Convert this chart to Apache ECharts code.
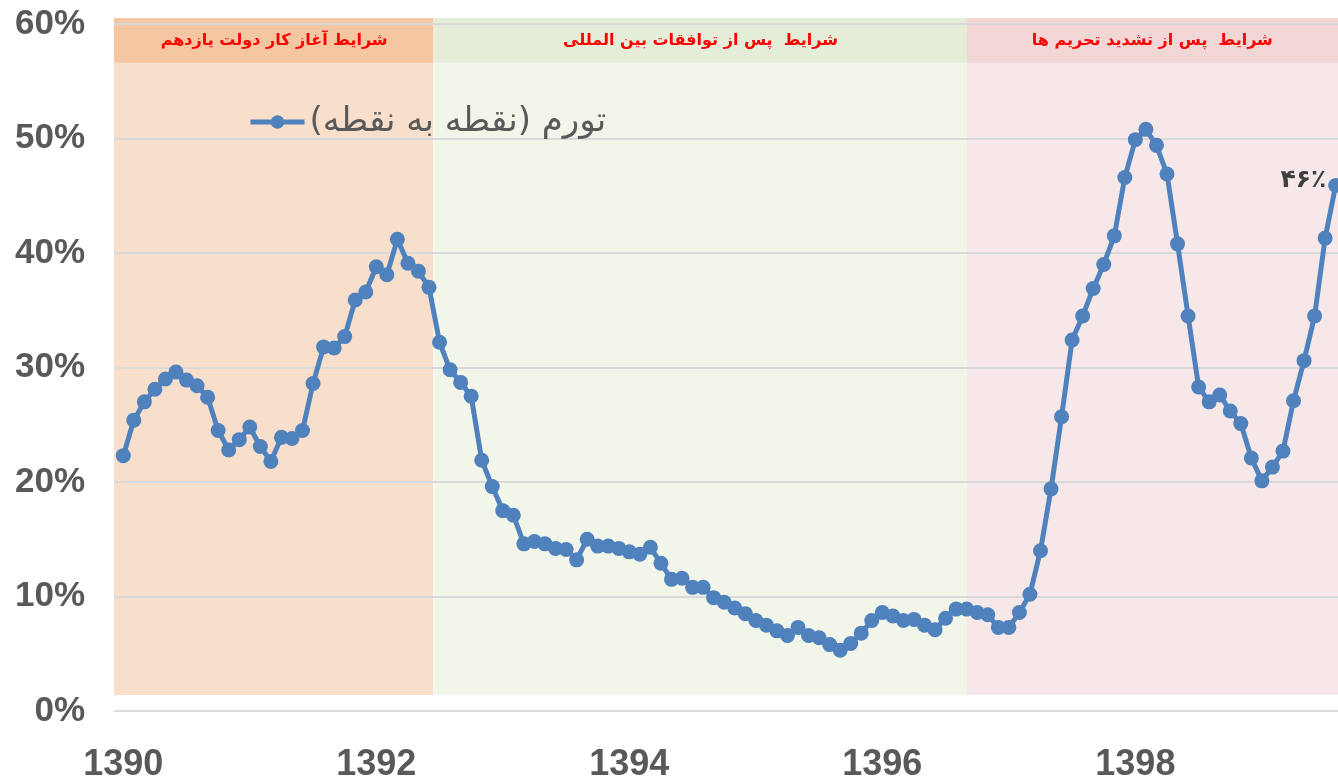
<!DOCTYPE html>
<html><head><meta charset="utf-8">
<script src="https://cdn.jsdelivr.net/npm/echarts@6/dist/echarts.min.js"></script>
<style>html,body{margin:0;padding:0;background:#fff}#c{width:1338px;height:783px}</style>
</head><body><div id="c"></div>
<script>
// ---- data ----
const startYear = 1390;
const seriesName = 'تورم (نقطه به نقطه)';
const inflation = [
  22.3, 25.4, 27.0, 28.1, 29.0, 29.6, 28.9, 28.4, 27.4, 24.5, 22.8, 23.7,
  24.8, 23.1, 21.8, 23.9, 23.8, 24.5, 28.6, 31.8, 31.7, 32.7, 35.9, 36.6,
  38.8, 38.1, 41.2, 39.1, 38.4, 37.0, 32.2, 29.8, 28.7, 27.5, 21.9, 19.6,
  17.5, 17.1, 14.6, 14.8, 14.6, 14.2, 14.1, 13.2, 15.0, 14.4, 14.4, 14.2,
  13.9, 13.7, 14.3, 12.9, 11.5, 11.6, 10.8, 10.8, 9.9, 9.5, 9.0, 8.5,
  7.9, 7.5, 7.0, 6.6, 7.3, 6.6, 6.4, 5.8, 5.3, 5.9, 6.8, 7.9,
  8.6, 8.3, 7.9, 8.0, 7.5, 7.1, 8.1, 8.9, 8.9, 8.6, 8.4, 7.3,
  7.3, 8.6, 10.2, 14.0, 19.4, 25.7, 32.4, 34.5, 36.9, 39.0, 41.5, 46.6,
  49.9, 50.8, 49.4, 46.9, 40.8, 34.5, 28.3, 27.0, 27.6, 26.2, 25.1, 22.1,
  20.1, 21.3, 22.7, 27.1, 30.6, 34.5, 41.3, 45.9
];
const yearTickMonths = [0, 24, 48, 72, 96];
const lastLabel = '۴۶٪';
const periodNames = [
  'شرایط آغاز کار دولت یازدهم',
  'شرایط  پس از توافقات بین المللی',
  'شرایط  پس از تشدید تحریم ها'
];
const periodStart = [-0.88, 29.5, 80];
const periodEnd = [29.5, 80, 115.22];

// ---- styles ----
const bodyColors = ['#f8dfcc', '#f2f5ea', '#f6e8e8'];
const headColors = ['#f4c6a1', '#e4edd8', '#f2d5d5'];
const AX_MIN = -0.88, AX_MAX = 115.22;
const BAND_TOP = 60.52, HEAD_BOTTOM = 56.61, BAND_BOTTOM = 1.39;

const lineData = inflation.map((v, i) => {
  if (i === inflation.length - 1) {
    return {
      value: [i, v],
      label: {
        show: true, formatter: lastLabel, position: 'left', distance: 2,
        offset: [0, -5], color: '#404040', fontSize: 25, fontWeight: 'bold',
        fontFamily: 'DejaVu Sans'
      }
    };
  }
  return [i, v];
});

const chart = echarts.init(document.getElementById('c'), null, {renderer: 'canvas'});
chart.setOption({
  animation: false,
  backgroundColor: '#ffffff',
  grid: {left: 114, right: 0, top: 24, bottom: 69, containLabel: false},
  legend: {
    data: [seriesName], left: 243, top: 100, itemWidth: 54, itemHeight: 17, itemGap: 6,
    lineStyle: {width: 5},
    textStyle: {fontSize: 34, color: '#595959', fontFamily: 'DejaVu Sans'}
  },
  xAxis: {
    type: 'value', min: AX_MIN, max: AX_MAX,
    axisLine: {show: false}, axisTick: {show: false}, splitLine: {show: false},
    axisLabel: {
      customValues: yearTickMonths, margin: 36,
      formatter: v => String(startYear + Math.round(v / 12)),
      fontSize: 36, fontWeight: 'bold', color: '#595959', fontFamily: 'Liberation Sans'
    }
  },
  yAxis: {
    type: 'value', min: 0, max: 60, interval: 10,
    axisLine: {show: false}, axisTick: {show: false},
    splitLine: {show: true, lineStyle: {color: '#d9d9d9', width: 2}},
    axisLabel: {
      formatter: '{value}%', margin: 29,
      fontSize: 35, fontWeight: 'bold', color: '#595959', fontFamily: 'Liberation Sans'
    }
  },
  series: [
    {
      type: 'custom', name: 'periods', z: -1, clip: false, silent: true,
      data: periodStart.map((s, i) => [s, periodEnd[i]]),
      encode: {x: [0, 1]},
      renderItem: function (params, api) {
        const idx = params.dataIndex;
        const s = api.value(0), e = api.value(1);
        const p0 = api.coord([s, BAND_TOP]);
        const p1 = api.coord([e, BAND_BOTTOM]);
        const h1 = api.coord([e, HEAD_BOTTOM]);
        const w = p1[0] - p0[0] - (idx === 0 ? 1 : 0);
        return {
          type: 'group',
          children: [
            {type: 'rect', shape: {x: p0[0], y: p0[1], width: w, height: p1[1] - p0[1]},
              style: {fill: bodyColors[idx]}},
            {type: 'rect', shape: {x: p0[0], y: p0[1], width: w, height: h1[1] - p0[1]},
              style: {fill: headColors[idx]}},
            {type: 'text', x: (p0[0] + p1[0]) / 2, y: (p0[1] + h1[1]) / 2,
              style: {text: periodNames[idx], fill: '#ff0000',
                font: 'bold 16px "DejaVu Sans"', align: 'center', verticalAlign: 'middle'}}
          ]
        };
      }
    },
    {
      type: 'line', name: seriesName, data: lineData, z: 3,
      symbol: 'circle', symbolSize: 15, showAllSymbol: true,
      lineStyle: {color: '#4f81bd', width: 5},
      itemStyle: {color: '#4f81bd'}
    }
  ]
});
</script>
</body></html>
